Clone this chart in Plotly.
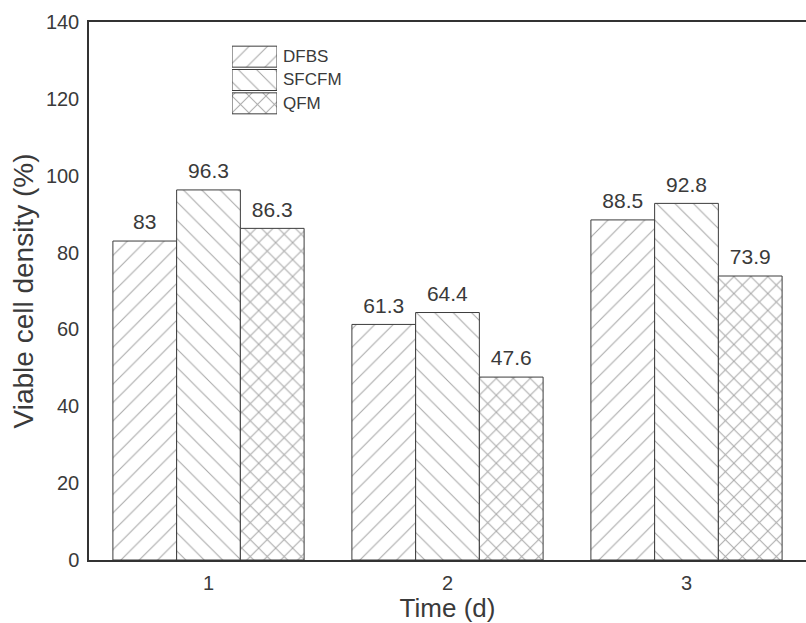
import plotly.graph_objects as go

# Viable cell density over time for three culture media
days = ["1", "2", "3"]
series_names = ["DFBS", "SFCFM", "QFM"]
dfbs = [83, 61.3, 88.5]
sfcfm = [96.3, 64.4, 92.8]
qfm = [86.3, 47.6, 73.9]
y_ticks = [0, 20, 40, 60, 80, 100, 120, 140]

values = [dfbs, sfcfm, qfm]
shapes = ["/", "\\", "x"]
pattern_sizes = [13, 13, 12]
solidities = [0.08, 0.08, 0.16]

W, H = 806, 623
ML, MR, MT, MB = 89, 0, 22, 63
FONT = "Liberation Sans, Arial, sans-serif"
TXT = "#3a3a3a"
EDGE = "#3c3c3c"
HATCH = "#505050"


def hatch(shape, size, solidity):
    return dict(shape=shape, size=size, solidity=solidity,
                fgcolor=HATCH, bgcolor="white", fillmode="overlay")


fig = go.Figure()

for name, vals, shp, sz, so in zip(series_names, values, shapes, pattern_sizes, solidities):
    fig.add_trace(go.Bar(
        x=days, y=vals, name=name,
        # value label in a large span; the small base size keeps the spacer line short
        text=[f"<span style='font-size:21px'>{v:g}</span><br> " for v in vals],
        textposition="outside",
        textfont=dict(family=FONT, size=6, color=TXT),
        cliponaxis=False,
        marker=dict(color="white", line=dict(color=EDGE, width=1),
                    pattern=hatch(shp, sz, so)),
        showlegend=False,
        xaxis="x", yaxis="y",
    ))

# Legend swatches drawn as patterned bars on a small inset axis
for name, shp, sz, so in zip(series_names, shapes, pattern_sizes, solidities):
    fig.add_trace(go.Bar(
        y=[name], x=[1], orientation="h", width=0.9,
        marker=dict(color="white", line=dict(color=EDGE, width=1),
                    pattern=hatch(shp, sz, so)),
        showlegend=False, hoverinfo="skip",
        xaxis="x2", yaxis="y2",
    ))

pw = W - ML - MR
ph = H - MT - MB
annotations = []
for name in series_names:
    annotations.append(dict(
        xref="x2 domain", x=1.0, xanchor="left", xshift=4,
        yref="y2", y=name, yanchor="middle",
        text=name, showarrow=False,
        font=dict(family=FONT, size=17, color=TXT),
    ))

fig.update_layout(
    width=W, height=H,
    margin=dict(l=ML, r=MR, t=MT, b=MB, autoexpand=False),
    paper_bgcolor="white", plot_bgcolor="white",
    barmode="group", bargap=0.2, bargroupgap=0,
    font=dict(family=FONT, color=TXT),
    uniformtext=dict(mode=False),
    xaxis=dict(
        type="category", range=[-0.5, 2.5],
        showline=True, linecolor="#333333", linewidth=1.5, mirror=True,
        ticks="", showgrid=False, zeroline=False,
        ticklabelstandoff=4,
        tickfont=dict(family=FONT, size=20, color=TXT),
        title=dict(text="Time (d)", font=dict(family=FONT, size=26, color=TXT), standoff=4),
    ),
    yaxis=dict(
        range=[0, 140], tickvals=y_ticks,
        showline=True, linecolor="#333333", linewidth=1.5, mirror=False,
        ticks="", showgrid=False, zeroline=False,
        ticklabelstandoff=4,
        tickfont=dict(family=FONT, size=20, color=TXT),
        title=dict(text="Viable cell density (%)", font=dict(family=FONT, size=28, color=TXT), standoff=4),
    ),
    xaxis2=dict(
        domain=[(232 - ML) / pw, (277 - ML) / pw], range=[0, 1],
        anchor="y2", visible=False, fixedrange=True,
    ),
    yaxis2=dict(
        domain=[(H - MB - 115) / ph, (H - MB - 45) / ph],
        anchor="x2", visible=False, autorange="reversed",
        type="category", fixedrange=True,
    ),
    annotations=annotations,
)

fig.write_html("out.html")
